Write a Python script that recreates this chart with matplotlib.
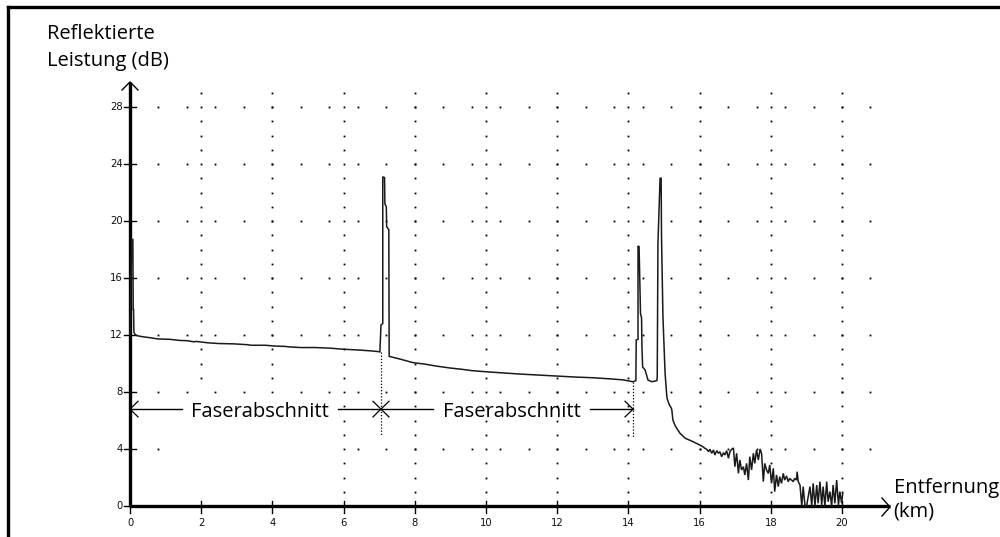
import matplotlib
matplotlib.use("Agg")
import matplotlib.pyplot as plt
from matplotlib.lines import Line2D

# OTDR trace: distance (km) / reflected power (dB)
dist_km = [
    0.00, 0.05, 0.08, 0.09, 0.10, 0.11, 0.14, 0.20, 0.35, 0.56, 0.80, 1.10,
    1.40, 1.60, 1.80, 1.85, 2.20, 2.50, 2.90, 3.30, 3.40, 3.80, 4.10, 4.35,
    4.50, 4.80, 5.20, 5.60, 6.00, 6.40, 6.80, 7.02, 7.05, 7.10, 7.10, 7.15,
    7.16, 7.20, 7.21, 7.27, 7.28, 7.36, 7.60, 7.95, 8.30, 8.60, 9.00, 9.30,
    9.60, 10.00, 10.40, 10.95, 11.40, 12.00, 12.50, 13.00, 13.50, 13.85, 14.13,
    14.21, 14.22, 14.27, 14.27, 14.30, 14.34, 14.37, 14.38, 14.40, 14.47, 14.55,
    14.66, 14.80, 14.81, 14.83, 14.89, 14.92, 14.93, 14.97, 15.03, 15.08, 15.10,
    15.15, 15.20, 15.22, 15.25, 15.32, 15.45, 15.60, 15.82, 16.06, 16.15,
    16.20, 16.25, 16.29, 16.34, 16.39, 16.43, 16.48, 16.53, 16.57, 16.62,
    16.67, 16.71, 16.76, 16.81, 16.85, 16.90, 16.95, 16.99, 17.04, 17.09,
    17.13, 17.18, 17.23, 17.27, 17.32, 17.37, 17.41, 17.46, 17.51, 17.55,
    17.60, 17.65, 17.70, 17.74, 17.79, 17.83, 17.88, 17.93, 17.97, 18.02,
    18.07, 18.11, 18.16, 18.21, 18.25, 18.30, 18.35, 18.39, 18.44, 18.49,
    18.53, 18.58, 18.63, 18.67, 18.72, 18.74, 18.77, 18.82, 18.87, 18.91,
    18.96, 19.01, 19.05, 19.10, 19.15, 19.19, 19.24, 19.29, 19.33, 19.38,
    19.43, 19.47, 19.52, 19.57, 19.61, 19.66, 19.71, 19.75, 19.80, 19.85,
    19.90, 19.94, 19.99, 20.02,
]
level_db = [
    12.00, 18.70, 18.70, 13.80, 13.80, 12.20, 12.05, 11.95, 11.88, 11.81, 11.72, 11.70,
    11.62, 11.60, 11.52, 11.55, 11.45, 11.40, 11.38, 11.32, 11.28, 11.28, 11.22, 11.20,
    11.16, 11.12, 11.12, 11.08, 11.00, 10.95, 10.88, 10.82, 12.70, 12.80, 23.10, 23.05,
    21.20, 21.00, 19.60, 19.40, 10.50, 10.45, 10.30, 10.06, 9.95, 9.82, 9.68, 9.60,
    9.50, 9.42, 9.35, 9.26, 9.20, 9.12, 9.05, 9.00, 8.92, 8.85, 8.72,
    8.80, 11.65, 11.70, 18.25, 18.20, 13.50, 13.20, 11.20, 9.75, 9.54, 8.84,
    8.72, 8.80, 9.05, 18.45, 23.00, 23.00, 18.90, 13.30, 9.33, 7.65, 7.44,
    7.10, 6.90, 6.74, 6.03, 5.60, 5.10, 4.75, 4.51, 4.21, 4.05,
    3.98, 3.81, 3.98, 3.70, 3.93, 3.58, 3.88, 3.70, 3.81, 3.46,
    3.74, 3.58, 3.88, 3.35, 3.81, 3.98, 4.07, 2.76, 3.70, 2.29,
    3.23, 2.53, 2.76, 2.18, 2.99, 1.82, 3.46, 2.53, 3.70, 2.99,
    3.93, 3.23, 4.00, 3.70, 1.71, 2.99, 2.53, 2.29, 2.88, 1.59,
    2.64, 1.01, 2.18, 1.36, 2.06, 1.59, 2.29, 1.82, 2.11, 1.71,
    1.94, 1.82, 1.71, 1.94, 1.82, 2.41, 1.71, 1.47, 0.00, 1.36,
    0.00, 0.07, 0.65, 1.36, 0.00, 1.59, 0.00, 1.47, 0.19, 1.71,
    0.07, 1.36, 0.00, 1.71, 0.30, 1.01, 0.00, 1.47, 0.19, 1.82,
    0.07, 1.01, 0.19, 0.89,
]

x_ticks = [0, 2, 4, 6, 8, 10, 12, 14, 16, 18, 20]
y_ticks = [0, 4, 8, 12, 16, 20, 24, 28]

# fibre sections: boundaries and label
section_bounds = [0.0, 7.05, 14.13]
section_label = "Faserabschnitt"
section_level = 6.8

# pixel mapping of the original screenshot (layout only)
X0, PX_KM = 130, 35.6
Y0, PX_DB = 506, 14.25
W, H = 1000, 537


def kx(px):
    return (px - X0) / PX_KM


def dy(py):
    return (Y0 - py) / PX_DB


fig = plt.figure(figsize=(W / 100, H / 100), dpi=100)
ax = fig.add_axes([0, 0, 1, 1])
ax.set_xlim(kx(0), kx(W))
ax.set_ylim(dy(H), dy(0))
ax.axis('off')

# frame (top and left edges only)
fig.add_artist(Line2D([8 / W, 1], [1 - 7 / H, 1 - 7 / H], color='k', lw=2.4))
fig.add_artist(Line2D([8 / W, 8 / W], [1 - 7 / H, 0], color='k', lw=2.4))

# dotted grid
col_x, col_y = [], []
for gx in x_ticks[1:]:
    for gy in range(1, 30):
        if gx in (2, 4) and gy < 9:
            continue
        col_x.append(gx)
        col_y.append(gy)
row_x, row_y = [], []
for gy in y_ticks[1:]:
    for k in range(1, 27):
        gx = 0.8 * k
        if gy == 4 and 0.9 < gx < 5.9:
            continue
        row_x.append(gx)
        row_y.append(gy)
ax.plot(col_x, col_y, 's', ms=1.3, mew=0, color='k')
ax.plot(row_x, row_y, 's', ms=1.3, mew=0, color='k')

# axes with open arrowheads
ax.plot([0, 0], [-0.1, dy(82)], color='k', lw=2.4, solid_capstyle='butt')
ax.plot([0, kx(890)], [0, 0], color='k', lw=2.4, solid_capstyle='butt')
ax.plot([kx(122), 0, kx(138)], [dy(90), dy(82), dy(90)], color='k', lw=1.0)
ax.plot([kx(882), kx(890), kx(882)], [dy(498), dy(507), dy(516)], color='k', lw=1.0)

tick_font = dict(family='DejaVu Sans', fontsize=7.2, color='#111111')
for t in y_ticks:
    ax.plot([kx(124), kx(136)], [t, t], color='k', lw=1.0)
    ax.text(kx(123), t, str(t), ha='right', va='center', **tick_font)
for t in x_ticks:
    ax.plot([t, t], [dy(501), dy(513)], color='k', lw=1.0)
    ax.text(t, dy(523), str(t), ha='center', va='center', **tick_font)

# trace
ax.plot(dist_km, level_db, color='#1a1a1a', lw=1.1, solid_joinstyle='miter')

# section markers: dotted drops and double arrows
ax.plot([section_bounds[1]] * 2, [10.8, 5.0], color='k', lw=0.9, ls=(0, (1, 1.5)))
ax.plot([section_bounds[2]] * 2, [8.7, 4.85], color='k', lw=0.9, ls=(0, (1, 1.5)))

label_font = dict(family='Open Sans', fontsize=14.5, color='k')
hl, hh = kx(138) - kx(130), 0.55
for a, b in zip(section_bounds[:-1], section_bounds[1:]):
    mid = (a + b) / 2 + 0.13
    gap = 2.2
    ax.plot([a, mid - gap], [section_level] * 2, color='k', lw=1.0)
    ax.plot([mid + gap, b], [section_level] * 2, color='k', lw=1.0)
    ax.plot([a + hl, a, a + hl], [section_level + hh, section_level, section_level - hh],
            color='k', lw=0.9)
    ax.plot([b - hl, b, b - hl], [section_level + hh, section_level, section_level - hh],
            color='k', lw=0.9)
    ax.text(mid, section_level, section_label, ha='center', va='center_baseline', **label_font)

# axis titles
fig.text(47 / W, 1 - 39 / H, "Reflektierte", va='baseline', **label_font)
fig.text(47 / W, 1 - 66 / H, "Leistung (dB)", va='baseline', **label_font)
fig.text(894 / W, 1 - 493 / H, "Entfernung", va='baseline', **label_font)
fig.text(893 / W, 1 - 517 / H, "(km)", va='baseline', **label_font)

fig.savefig("out.png", dpi=100)
